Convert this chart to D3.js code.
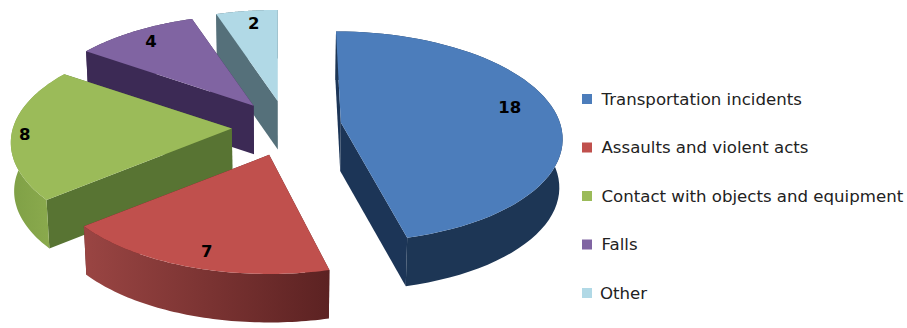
<!DOCTYPE html>
<html><head><meta charset="utf-8">
<script src="https://cdnjs.cloudflare.com/ajax/libs/d3/7.8.5/d3.min.js"></script>
<style>html,body{margin:0;padding:0;background:#fff}svg{display:block}</style>
</head><body><svg id="chart" width="907" height="328"></svg>
<script>
// data
const categories = ["Transportation incidents","Assaults and violent acts","Contact with objects and equipment","Falls","Other"];
const values = [18,7,8,4,2];
// styles
const topColors = ["#4c7dbb","#c0504d","#9bbb59","#8064a2","#b1d9e6"];
const wallStart = ["#1d3655","#5c2222","#7fa046","#3c2a55","#55707a"]; // rim wall colour at gradient start
const wallEnd   = ["#1d3655","#9a4543","#8fae50","#3c2a55","#55707a"];
const edgeColors= ["#1c3557","#5c2222","#587433","#3c2a55","#55707a"];
const labelRadius = [.805,.87,.94,.85,.85];
const labelAngleNudge = [-4,-1.5,-1,0,1];

// projection of the tilted pie
const W=907,H=328, ox=286.5, oy=127.5, rx=219, ry=103.2, persp=.1336, explodeX=.25, explodeY=.27, depth=48.5, lean=.012, shear=.00098, rise=.03;
const svg=d3.select("#chart");
const arcs=d3.pie().sort(null).value(d=>d)(values);
const colorScale=d3.scaleOrdinal().domain(categories).range(topColors);

function apexOf(a){
  const m=(a.startAngle+a.endAngle)/2, Y=-Math.cos(m);
  const x=ox+explodeX*rx*Math.sin(m);
  return [x, oy+explodeY*ry*Y/(1-persp*Y*explodeY)-rise*Math.max(0,x-ox)];
}
function project(ap,th,r){
  const X=r*Math.sin(th),Y=-r*Math.cos(th),d=1-persp*Y;
  const dy=ry*Y/d;
  return [ap[0]+rx*X/d+shear*Math.max(0,ap[0]-ox)*dy, ap[1]+dy];
}
const drop=p=>[p[0]-lean*(p[0]-ox),p[1]+depth];
const line=d3.line();
const defs=svg.append("defs");
const steps=a=>d3.range(0,61).map(i=>a.startAngle+(a.endAngle-a.startAngle)*i/60);

// back to front: other, falls, contact, assaults, transportation
const order=[4,3,2,1,0];
order.forEach(i=>{
  const a=arcs[i],ap=apexOf(a),g=svg.append("g").attr("class","slice");
  const rim=steps(a).map(t=>project(ap,t,1));
  const gid="wall"+i;
  const lg=defs.append("linearGradient").attr("id",gid).attr("x1",0).attr("x2",1).attr("y1",0).attr("y2",0);
  lg.append("stop").attr("offset",0).attr("stop-color",i===1?wallEnd[i]:wallStart[i]);
  lg.append("stop").attr("offset",1).attr("stop-color",i===1?wallStart[i]:wallEnd[i]);
  // side faces
  const s=rim[0],e=rim[rim.length-1];
  g.append("path").attr("d",line([e,ap,drop(ap),drop(e)])+"Z").attr("fill",edgeColors[i]);
  g.append("path").attr("d",line([s,ap,drop(ap),drop(s)])+"Z").attr("fill",edgeColors[i]);
  // rim wall
  g.append("path").attr("d",line(rim.concat(rim.map(drop).reverse()))+"Z").attr("fill",`url(#${gid})`);
  // top
  g.append("path").attr("d",line([ap].concat(rim))+"Z").attr("fill",colorScale(categories[i]));
});

// data labels
arcs.forEach((a,i)=>{
  const m=(a.startAngle+a.endAngle)/2+labelAngleNudge[i]*Math.PI/180;
  const p=project(apexOf(a),m,labelRadius[i]);
  svg.append("text").attr("x",p[0]).attr("y",p[1]).attr("dy",".36em").attr("text-anchor","middle")
    .attr("font-family","'DejaVu Sans'").attr("font-weight","bold").attr("font-size",16.5).attr("fill","#000").text(values[i]);
});

// legend
const ly=d3.scalePoint().domain(categories).range([99,293]);
const lg=svg.append("g");
categories.forEach((c,i)=>{
  lg.append("rect").attr("x",582).attr("y",ly(c)-5).attr("width",10).attr("height",10).attr("fill",colorScale(c));
  lg.append("text").attr("x",i===4?600:601.5).attr("y",ly(c)).attr("dy",".36em")
    .attr("font-family","'DejaVu Sans'").attr("font-size",16.6).attr("fill","#222").text(c);
});
</script></body></html>
